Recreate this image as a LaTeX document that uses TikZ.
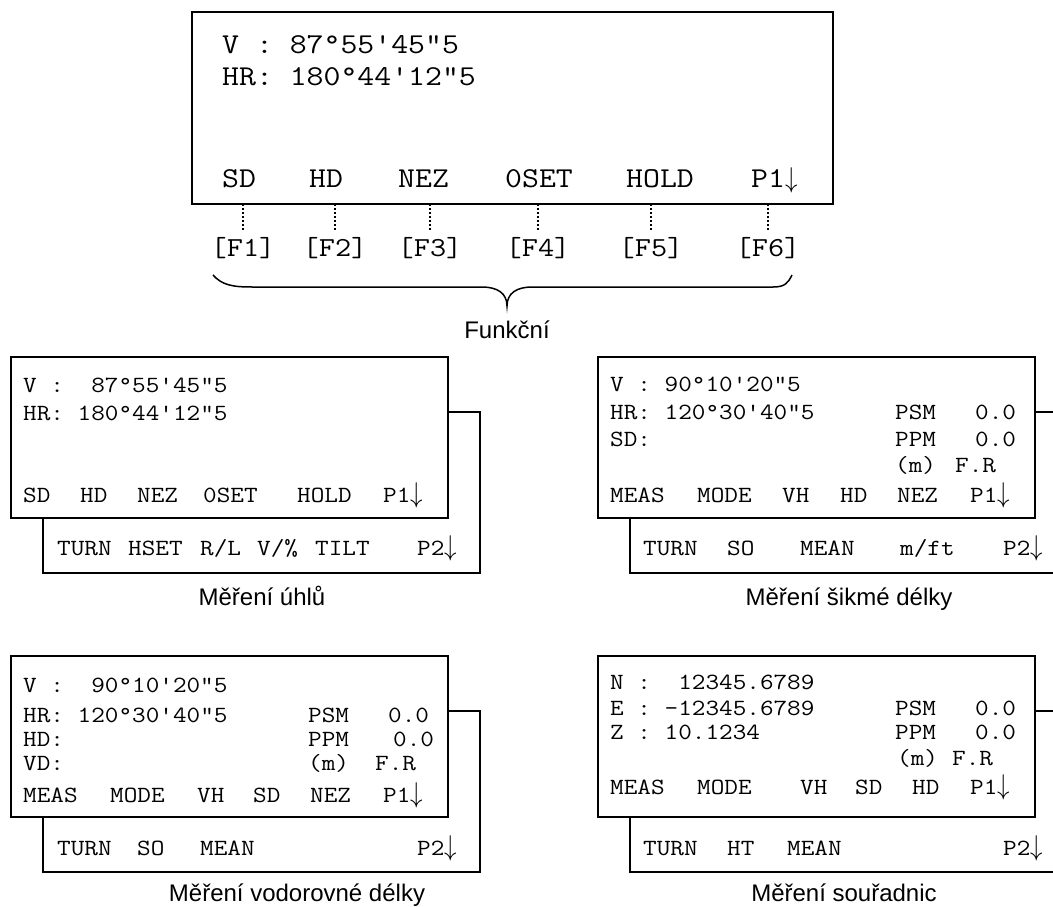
\documentclass[tikz,border=0pt]{standalone}
\usepackage{fontspec}
\newfontfamily\lcdfont[FakeStretch=1.14]{Latin Modern Mono}
\newfontfamily\capfont{Liberation Sans}
\newcommand{\dn}{\scalebox{1}[1.15]{$\downarrow$}}
\begin{document}
\begin{tikzpicture}[x=1pt, y=-1pt,
    screen/.style={draw, line width=2.2pt, fill=white, inner sep=0pt, outer sep=0pt, anchor=north west},
    lcd/.style={anchor=west, inner sep=0pt, text height=14.2pt, text depth=0pt, font=\lcdfont\fontsize{23.2}{26}\selectfont},
    lcdbig/.style={lcd, text height=17.6pt, font=\lcdfont\fontsize{28.8}{32}\selectfont},
    fkey/.style={inner sep=0pt, text height=16.5pt, text depth=0pt, font=\lcdfont\fontsize{27.5}{30}\selectfont},
    caption/.style={inner sep=0pt, text height=17.2pt, text depth=0pt, font=\capfont\fontsize{24}{28}\selectfont},
    keyline/.style={line width=1.8pt, dash pattern=on 2pt off 2pt, shorten >=8pt}]
    \useasboundingbox (0,0) rectangle (1053,907);

    % --- 1. Hlavni displej ---
    \node[screen, minimum width=641pt, minimum height=192pt] (top) at (192,12) {};
    \node[lcdbig] (t-v)  at (222,45) {V~:~87°55'45"5};
    \node[lcdbig] (t-hr) at (222,77) {HR:~180°44'12"5};
    \node[lcdbig] (t-k1) at (222,179) {SD};
    \node[lcdbig] (t-k2) at (309,179) {HD};
    \node[lcdbig] (t-k3) at (398,179) {NEZ};
    \node[lcdbig] (t-k4) at (505,179) {0SET};
    \node[lcdbig] (t-k5) at (626,179) {HOLD};
    \node[lcdbig] (t-k6) at (751,179) {P1\dn};

    % Funkcni klavesy
    \node[fkey] (f1) at (243,248) {[F1]};
    \node[fkey] (f2) at (335,248) {[F2]};
    \node[fkey] (f3) at (430,248) {[F3]};
    \node[fkey] (f4) at (538,248) {[F4]};
    \node[fkey] (f5) at (651,248) {[F5]};
    \node[fkey] (f6) at (768,248) {[F6]};
    \draw[keyline] (top.south -| f1) -- (f1.north);
    \draw[keyline] (top.south -| f2) -- (f2.north);
    \draw[keyline] (top.south -| f3) -- (f3.north);
    \draw[keyline] (top.south -| f4) -- (f4.north);
    \draw[keyline] (top.south -| f5) -- (f5.north);
    \draw[keyline] (top.south -| f6) -- (f6.north);

    % Slozena zavorka
    \draw[line width=1.5pt] (213,275) .. controls (222,285) and (232,287) .. (252,287) -- (482,287)
        .. controls (497,287) and (507,293) .. (507,306) .. controls (507,293) and (517,287) .. (532,287)
        -- (773,287) .. controls (785,287) and (788,283) .. (792,275);
    \node[caption] (fn) at (507,330) {Funkční};

    % --- 2. Mereni uhlu ---
    \node[screen, minimum width=437pt, minimum height=161pt] (a-back) at (43,412) {};
    \node[screen, minimum width=437pt, minimum height=161pt] (a-front) at (11,357) {};
    \node[lcd] (a-v)  at (23,385) {V~:~~87°55'45"5};
    \node[lcd] (a-hr) at (23,413) {HR:~180°44'12"5};
    \node[lcd] (a-k1) at (23,495) {SD};
    \node[lcd] (a-k2) at (80,495) {HD};
    \node[lcd] (a-k3) at (137,495) {NEZ};
    \node[lcd] (a-k4) at (203,495) {0SET};
    \node[lcd] (a-k5) at (297,495) {HOLD};
    \node[lcd] (a-k6) at (383,495) {P1\dn};
    \node[lcd] (a-p1) at (57,548) {TURN};
    \node[lcd] (a-p2) at (128,548) {HSET};
    \node[lcd] (a-p3) at (200,548) {R/L};
    \node[lcd] (a-p4) at (257,548) {V/\%};
    \node[lcd] (a-p5) at (315,548) {TILT};
    \node[lcd] (a-p6) at (417,548) {P2\dn};
    \node[caption] (a-cap) at (262,597) {Měření úhlů};

    % --- 3. Mereni sikme delky ---
    \node[screen, minimum width=437pt, minimum height=161pt] (b-back) at (630,412) {};
    \node[screen, minimum width=437pt, minimum height=161pt] (b-front) at (598,357) {};
    \node[lcd] (b-v)   at (610,384) {V~:~90°10'20"5};
    \node[lcd] (b-hr)  at (610,412) {HR:~120°30'40"5};
    \node[lcd] (b-sd)  at (610,439) {SD:};
    \node[lcd] (b-psm) at (895,412) {PSM};
    \node[lcd] (b-pv)  at (975,412) {0.0};
    \node[lcd] (b-ppm) at (895,439) {PPM};
    \node[lcd] (b-mv)  at (975,439) {0.0};
    \node[lcd] (b-m)   at (895,465) {(m)};
    \node[lcd] (b-fr)  at (955,465) {F.R};
    \node[lcd] (b-k1) at (610,495) {MEAS};
    \node[lcd] (b-k2) at (697,495) {MODE};
    \node[lcd] (b-k3) at (782,495) {VH};
    \node[lcd] (b-k4) at (840,495) {HD};
    \node[lcd] (b-k5) at (897,495) {NEZ};
    \node[lcd] (b-k6) at (970,495) {P1\dn};
    \node[lcd] (b-p1) at (643,548) {TURN};
    \node[lcd] (b-p2) at (727,548) {SO};
    \node[lcd] (b-p3) at (800,548) {MEAN};
    \node[lcd] (b-p4) at (900,548) {m/ft};
    \node[lcd] (b-p5) at (1003,548) {P2\dn};
    \node[caption] (b-cap) at (849,597) {Měření šikmé délky};

    % --- 4. Mereni vodorovne delky ---
    \node[screen, minimum width=437pt, minimum height=161pt] (c-back) at (43,711) {};
    \node[screen, minimum width=437pt, minimum height=161pt] (c-front) at (11,656) {};
    \node[lcd] (c-v)   at (23,685) {V~:~~90°10'20"5};
    \node[lcd] (c-hr)  at (23,715) {HR:~120°30'40"5};
    \node[lcd] (c-hd)  at (23,739) {HD:};
    \node[lcd] (c-vd)  at (23,763) {VD:};
    \node[lcd] (c-psm) at (308,715) {PSM};
    \node[lcd] (c-pv)  at (388,715) {0.0};
    \node[lcd] (c-ppm) at (308,739) {PPM};
    \node[lcd] (c-mv)  at (393,739) {0.0};
    \node[lcd] (c-m)   at (308,763) {(m)};
    \node[lcd] (c-fr)  at (375,763) {F.R};
    \node[lcd] (c-k1) at (23,795) {MEAS};
    \node[lcd] (c-k2) at (110,795) {MODE};
    \node[lcd] (c-k3) at (197,795) {VH};
    \node[lcd] (c-k4) at (253,795) {SD};
    \node[lcd] (c-k5) at (310,795) {NEZ};
    \node[lcd] (c-k6) at (383,795) {P1\dn};
    \node[lcd] (c-p1) at (57,848) {TURN};
    \node[lcd] (c-p2) at (137,848) {SO};
    \node[lcd] (c-p3) at (200,848) {MEAN};
    \node[lcd] (c-p4) at (417,848) {P2\dn};
    \node[caption] (c-cap) at (297,893) {Měření vodorovné délky};

    % --- 5. Mereni souradnic ---
    \node[screen, minimum width=437pt, minimum height=161pt] (d-back) at (630,711) {};
    \node[screen, minimum width=437pt, minimum height=161pt] (d-front) at (598,656) {};
    \node[lcd] (d-n)   at (610,682) {N~:~~12345.6789};
    \node[lcd] (d-e)   at (610,708) {E~:~-12345.6789};
    \node[lcd] (d-z)   at (610,732) {Z~:~10.1234};
    \node[lcd] (d-psm) at (895,708) {PSM};
    \node[lcd] (d-pv)  at (975,708) {0.0};
    \node[lcd] (d-ppm) at (895,732) {PPM};
    \node[lcd] (d-mv)  at (975,732) {0.0};
    \node[lcd] (d-m)   at (897,758) {(m)};
    \node[lcd] (d-fr)  at (952,758) {F.R};
    \node[lcd] (d-k1) at (610,787) {MEAS};
    \node[lcd] (d-k2) at (697,787) {MODE};
    \node[lcd] (d-k3) at (800,787) {VH};
    \node[lcd] (d-k4) at (855,787) {SD};
    \node[lcd] (d-k5) at (912,787) {HD};
    \node[lcd] (d-k6) at (970,787) {P1\dn};
    \node[lcd] (d-p1) at (643,848) {TURN};
    \node[lcd] (d-p2) at (727,848) {HT};
    \node[lcd] (d-p3) at (787,848) {MEAN};
    \node[lcd] (d-p4) at (1003,848) {P2\dn};
    \node[caption] (d-cap) at (844,893) {Měření souřadnic};
\end{tikzpicture}
\end{document}
